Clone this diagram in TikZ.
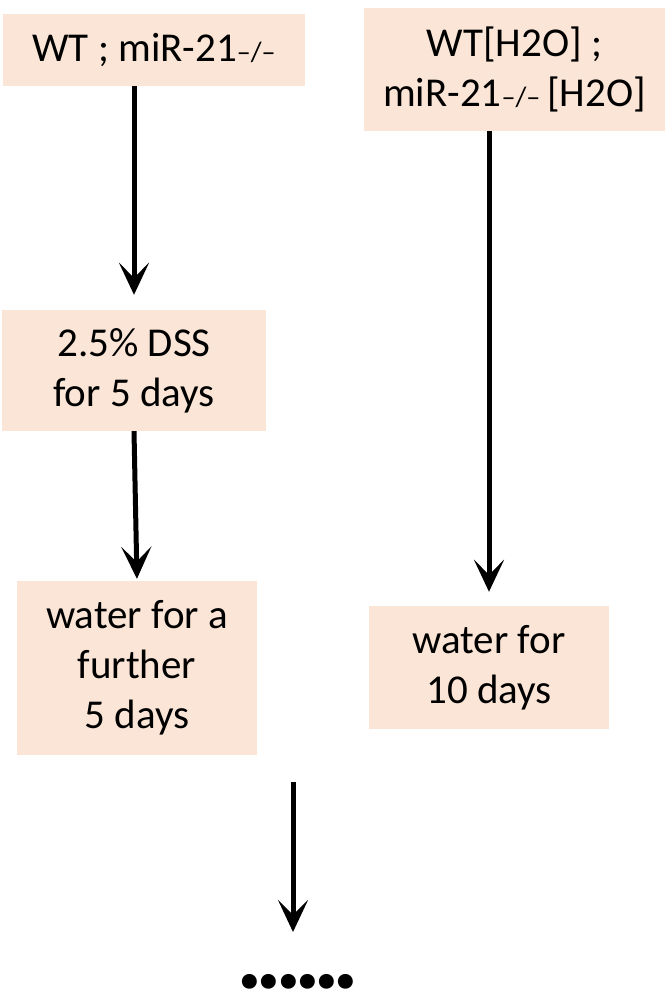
\documentclass[tikz,border=0pt]{standalone}
\usepackage{fontspec}
\setmainfont{Carlito}
\newfontfamily\dotfont[LetterSpace=-7.5]{Carlito}
\usetikzlibrary{arrows.meta,calc}
\definecolor{boxfill}{RGB}{251,229,214}
\tikzset{
  stepbox/.style={fill=boxfill, draw=none, align=center, inner sep=0pt,
    font=\fontsize{41}{50}\selectfont},
  arr/.style={line width=5pt, -{Stealth[length=32pt,width=30pt,inset=15pt]}},
}
\newcommand{\ko}{{\fontsize{28}{28}\selectfont –/–}}
\begin{document}
\begin{tikzpicture}[x=1pt,y=-1pt]
\useasboundingbox (0,0) rectangle (666,995);
\node[stepbox, minimum width=302pt, minimum height=72pt] (b1) at (154,50) {WT ; miR-21\ko};
\node[stepbox, minimum width=301pt, minimum height=123pt] (b2) at (514.5,69.5) {WT[H2O] ;\\miR-21\ko\,[H2O]};
\node[stepbox, minimum width=264pt, minimum height=121pt] (b3) at (134,370.5) {2.5\% DSS\\for 5 days};
\node[stepbox, minimum width=240pt, minimum height=174pt] (b4) at (137,668) {water for a\\further\\5 days};
\node[stepbox, minimum width=240pt, minimum height=123pt] (b5) at (489,667.5) {water for\\10 days};
\coordinate (a4s) at (293,782);
\coordinate (a4e) at (293,930);
\node[anchor=base, inner sep=0pt, font=\fontsize{100}{100}\dotfont\bfseries] (dots) at (298,988) {......};
\draw[arr, shorten >=-2pt] (b1.south -| b3.north) -- ($(b3.north)+(0,-17)$);
\draw[arr, shorten >=2pt] (b3.south) -- (b4.north);
\draw[arr, shorten >=-2pt] (b2.south -| b5.north) -- ($(b5.north)+(0,-16)$);
\draw[arr, shorten >=-2pt] (a4s) -- (a4e);
\end{tikzpicture}
\end{document}
